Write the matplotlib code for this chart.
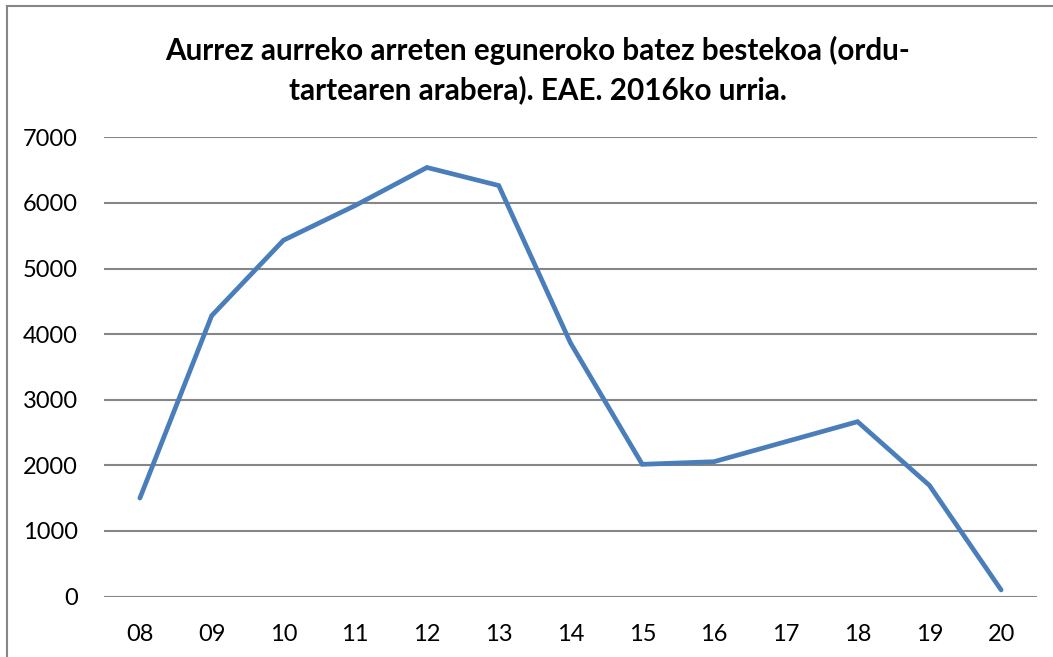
import matplotlib
matplotlib.use("Agg")
import matplotlib.pyplot as plt
from matplotlib.lines import Line2D

hours = ["08", "09", "10", "11", "12", "13", "14", "15", "16", "17", "18", "19", "20"]
values = [1500, 4280, 5430, 5960, 6540, 6265, 3865, 2015, 2055, 2360, 2665, 1695, 100]
yticks = [0, 1000, 2000, 3000, 4000, 5000, 6000, 7000]
title = "Aurrez aurreko arreten eguneroko batez bestekoa (ordu-\ntartearen arabera). EAE. 2016ko urria."

W, H = 1053, 657
fig = plt.figure(figsize=(W / 100, H / 100), dpi=100)
plt.rcParams['font.family'] = ['Lato', 'DejaVu Sans']

ax = fig.add_axes([104 / W, 1 - 596.5 / H, (1037 - 104) / W, (596.5 - 137.3) / H])
x = list(range(len(hours)))
ax.plot(x, values, color="#4A7EBB", linewidth=3.4, solid_capstyle="round", solid_joinstyle="miter", zorder=3)
ax.set_xlim(-0.5, len(hours) - 0.5)
ax.set_ylim(0, 7000)
ax.set_yticks(yticks)
ax.set_yticklabels([str(v) for v in yticks])
ax.set_xticks(x)
ax.set_xticklabels(hours)
for s in ax.spines.values():
    s.set_visible(False)
ax.grid(axis="y", color="#868686", linewidth=1.5)
ax.grid(axis="x", visible=False)
ax.set_axisbelow(True)
ax.tick_params(axis="both", length=0, labelsize=17, colors="black")
ax.tick_params(axis="y", pad=19)
ax.tick_params(axis="x", pad=20)

fig.text(538 / W, 1 - 70 / H, title, ha="center", va="center", fontsize=21.3,
         fontweight="bold", linespacing=1.45)

# chart frame (cropped)
fig.add_artist(Line2D([7 / W, 7 / W], [0, 1 - 6 / H], transform=fig.transFigure, color="#868686", linewidth=1.5))
fig.add_artist(Line2D([7 / W, 1], [1 - 6 / H, 1 - 6 / H], transform=fig.transFigure, color="#868686", linewidth=1.5))

fig.savefig("out.png", dpi=100)
